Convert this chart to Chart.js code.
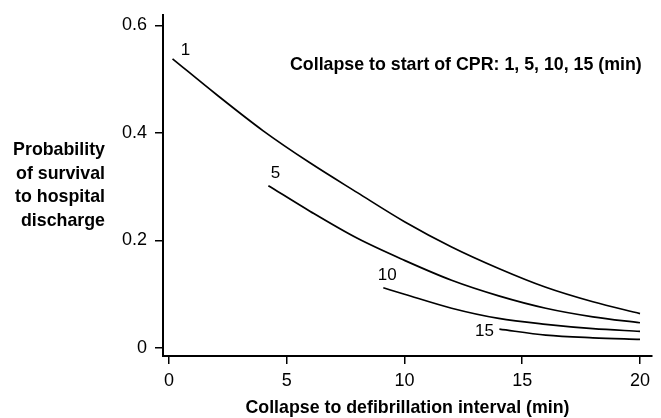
<!DOCTYPE html>
<html>
<head>
<meta charset="utf-8">
<script src="https://cdn.jsdelivr.net/npm/chart.js@4.4.0/dist/chart.umd.min.js"></script>
<style>
  html, body { margin: 0; padding: 0; background: #fff; }
  #wrap { width: 661px; height: 418px; }
</style>
</head>
<body>
<div id="wrap"><canvas id="chart"></canvas></div>
<script>
// collapse-to-CPR interval for each curve (min)
const cprLabels = ["1", "5", "10", "15"];

// collapse-to-defibrillation interval (x) and survival probability (y)
const defib1 = [0.15, 2, 4, 6, 8, 10, 12, 14, 16, 18, 20];
const surv1  = [0.538, 0.472, 0.404, 0.344, 0.289, 0.235, 0.188, 0.148, 0.113, 0.086, 0.064];

const defib5 = [4.22, 6, 8, 10, 12, 14, 16, 18, 20];
const surv5  = [0.302, 0.254, 0.204, 0.163, 0.126, 0.097, 0.074, 0.058, 0.047];

const defib10 = [9.1, 10, 12, 14, 16, 18, 20];
const surv10  = [0.112, 0.100, 0.074, 0.055, 0.044, 0.036, 0.031];

const defib15 = [14.03, 16, 18, 20];
const surv15  = [0.035, 0.024, 0.019, 0.016];

const xTicks = [0, 5, 10, 15, 20];
const yTicks = [0, 0.2, 0.4, 0.6];

const xTitle = "Collapse to defibrillation interval (min)";
const yTitle = ["Probability", "of survival", "to hospital", "discharge"];
const curveNote = "Collapse to start of CPR: 1, 5, 10, 15 (min)";

const FONT = "'Liberation Sans', Arial, Helvetica, sans-serif";

function pts(xs, ys) {
  return xs.map((x, i) => ({ x: x, y: ys[i] }));
}

const series = [[defib1, surv1], [defib5, surv5], [defib10, surv10], [defib15, surv15]];

// where the "1", "5", "10", "15" sit relative to each curve's first point (px)
const labelOffsets = [[13, -8], [7, -12], [4, -12], [-15, 2]];

const textPlugin = {
  id: "texts",
  afterDraw(chart) {
    const ctx = chart.ctx;
    const xs = chart.scales.x, ys = chart.scales.y;
    ctx.save();
    ctx.fillStyle = "#000";
    ctx.textBaseline = "middle";

    // curve labels
    ctx.font = "17px " + FONT;
    ctx.textAlign = "center";
    chart.data.datasets.forEach((ds, i) => {
      const p = ds.data[0];
      ctx.fillText(cprLabels[i], xs.getPixelForValue(p.x) + labelOffsets[i][0],
                   ys.getPixelForValue(p.y) + labelOffsets[i][1]);
    });

    // note at top right
    ctx.font = "bold 17.8px " + FONT;
    ctx.textAlign = "left";
    ctx.fillText(curveNote, 290, 65);

    // y axis title, horizontal and right aligned
    ctx.textAlign = "right";
    yTitle.forEach((line, i) => ctx.fillText(line, 105, 150 + i * 23.8));
    ctx.restore();
  }
};

new Chart(document.getElementById("chart"), {
  type: "line",
  data: {
    datasets: series.map(([xs, ys], i) => ({
      label: cprLabels[i],
      data: pts(xs, ys),
      borderColor: "#000",
      borderWidth: 1.7,
      pointRadius: 0,
      fill: false,
      cubicInterpolationMode: "monotone"
    }))
  },
  options: {
    responsive: true,
    maintainAspectRatio: false,
    animation: false,
    layout: { padding: { top: 15, right: 9, left: 0, bottom: 0 } },
    plugins: { legend: { display: false }, tooltip: { enabled: false } },
    scales: {
      x: {
        type: "linear",
        min: -0.255,
        max: 20.51,
        afterFit(scale) {
          scale.height = 62;
          scale.paddingLeft = 0; scale.paddingRight = 0;
        },
        afterBuildTicks(scale) { scale.ticks = xTicks.map(v => ({ value: v })); },
        border: { display: true, color: "#000", width: 2 },
        grid: { drawOnChartArea: false, drawTicks: true, tickLength: 8, color: "#000", lineWidth: 1.5 },
        ticks: { color: "#000", font: { family: FONT, size: 18 }, padding: 6, maxRotation: 0 },
        title: {
          display: true, text: xTitle, color: "#000",
          font: { family: FONT, size: 17.8, weight: "bold", lineHeight: 1.1 },
          padding: { top: 4, bottom: 0 }
        }
      },
      y: {
        type: "linear",
        min: -0.0149,
        max: 0.6195,
        afterFit(scale) {
          scale.width = 163;
          scale.paddingTop = 0; scale.paddingBottom = 0;
        },
        afterBuildTicks(scale) { scale.ticks = yTicks.map(v => ({ value: v })); },
        border: { display: true, color: "#000", width: 2 },
        grid: { drawOnChartArea: false, drawTicks: true, tickLength: 8, color: "#000", lineWidth: 1.5 },
        ticks: { color: "#000", font: { family: FONT, size: 18 }, padding: 8 }
      }
    }
  },
  plugins: [textPlugin]
});
</script>
</body>
</html>
